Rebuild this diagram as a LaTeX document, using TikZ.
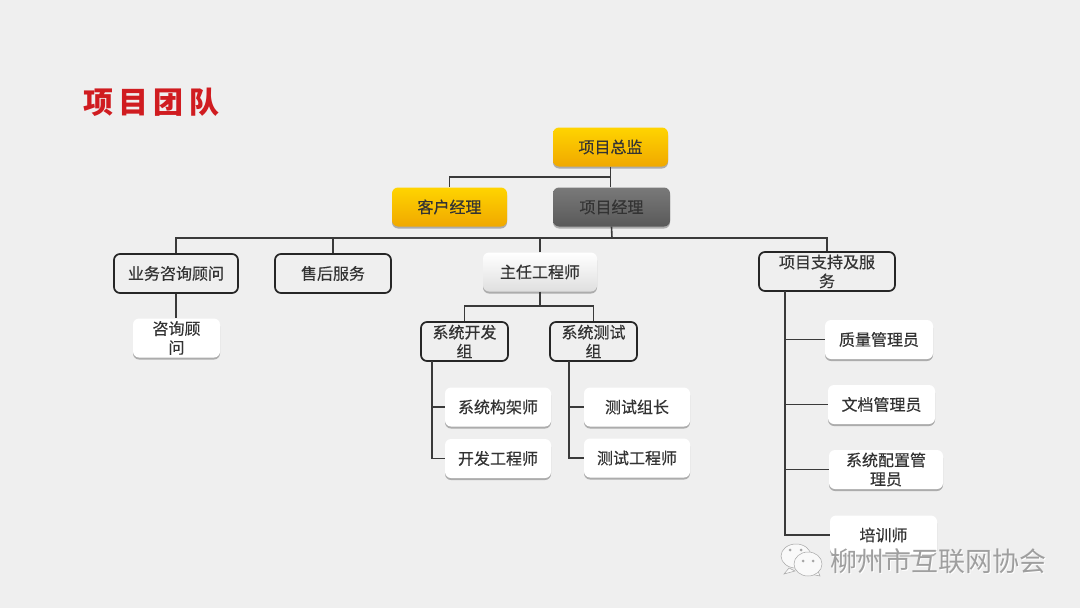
\documentclass[tikz,border=0pt]{standalone}
\usepackage{fontspec}
\usepackage{xcolor}
\usetikzlibrary{shadows}
\setmainfont{Noto Sans CJK SC}
\newfontfamily\titlefont[LetterSpace=18]{Noto Sans CJK SC}
\newfontfamily\boxfont[FakeBold=0.4]{Noto Sans CJK SC}
\definecolor{pagebg}{HTML}{EFEFEF}
\definecolor{linecol}{HTML}{3A3A3A}
\definecolor{txtcol}{HTML}{333333}
\definecolor{goldtop}{HTML}{FFD400}
\definecolor{goldbot}{HTML}{F0A800}
\definecolor{titlered}{HTML}{D01C20}
\tikzset{
    box/.style={rounded corners=6pt, minimum height=39pt, inner sep=0pt, align=center,
        text=txtcol, font=\boxfont\fontsize{16}{19}\selectfont},
    softshadow/.style={drop shadow={shadow xshift=0pt, shadow yshift=-2pt, fill=gray, opacity=0.6}},
    goldbox/.style={box, softshadow, minimum width=115pt, top color=goldtop, bottom color=goldbot},
    greybox/.style={box, softshadow, minimum width=117pt, top color=gray!95!black, bottom color=gray!70!black},
    whitebox/.style={box, softshadow, fill=white},
    linebox/.style={box, draw=black!85, line width=1.7pt, fill=pagebg},
    wire/.style={draw=linecol, line width=1.6pt},
    wechat/.style={fill=white!95!gray, draw=gray!70, line width=0.5pt},
}
\begin{document}
\begin{tikzpicture}[x=1pt, y=-1pt]
    \useasboundingbox (0,0) rectangle (1080,608);
    \fill[pagebg] (0,0) rectangle (1080,608);
    \node[anchor=west, inner sep=0pt, text=titlered, font=\titlefont\fontsize{30}{32}\selectfont\bfseries] (title) at (83,102) {项目团队};

    % top of the tree
    \node[goldbox] (zongjian) at (610.5,147) {项目总监};
    \node[goldbox] (kehu) at (449.5,207) {客户经理};
    \node[greybox] (jingli) at (611.5,207) {项目经理};

    % second row
    \node[linebox, minimum width=124pt] (zixun) at (176,273.5) {业务咨询顾问};
    \node[linebox, minimum width=116pt] (shouhou) at (333,273.5) {售后服务};
    \node[box, softshadow, minimum width=114pt, top color=white, bottom color=gray!25] (zhuren) at (540,272) {主任工程师};
    \node[linebox, minimum width=136pt] (zhichi) at (827,271.5) {项目支持及服\\务};

    % groups
    \node[whitebox, minimum width=87pt] (guwen) at (176.5,338) {咨询顾\\问};
    \node[linebox, minimum width=87pt] (kaifa) at (464.5,341.5) {系统开发\\组};
    \node[linebox, minimum width=87pt] (ceshi) at (593.5,341.5) {系统测试\\组};

    % members
    \node[whitebox, minimum width=106pt] (goujia) at (498,407) {系统构架师};
    \node[whitebox, minimum width=106pt] (kfgc) at (498,458.5) {开发工程师};
    \node[whitebox, minimum width=106pt] (zuzhang) at (637,407) {测试组长};
    \node[whitebox, minimum width=106pt] (csgc) at (637,458) {测试工程师};
    \node[whitebox, minimum width=108pt] (zhiliang) at (879,339.5) {质量管理员};
    \node[whitebox, minimum width=107pt] (wendang) at (881.5,404.5) {文档管理员};
    \node[whitebox, minimum width=114pt] (peizhi) at (886,469.5) {系统配置管\\理员};
    \node[whitebox, minimum width=107pt] (peixun) at (883.5,535) {培训师};

    \coordinate (topbus) at (611,177);
    \coordinate (midbus) at (612,238);
    \coordinate (devbus) at (540,306);
    \coordinate (kfdrop) at (432,361);
    \coordinate (csdrop) at (569,361);
    \coordinate (zcdrop) at (785,291);

    \draw[wire] (zongjian.south) -- (zongjian.south |- jingli.north);
    \draw[wire] (topbus) -| (kehu.north);
    \draw[wire] (jingli.south) -- (midbus);
    \draw[wire] (zixun.north) |- (midbus) -| (zhichi.north);
    \draw[wire] (shouhou.north) -- (shouhou.north |- midbus);
    \draw[wire] (zhuren.north) -- (zhuren.north |- midbus);
    \draw[wire] (zixun.south) -- (zixun.south |- guwen.north);
    \draw[wire] (zhuren.south) -- (devbus);
    \draw[wire] (kaifa.north) |- (devbus) -| (ceshi.north);
    \foreach \m in {goujia,kfgc}
        \draw[wire] (kfdrop) |- (\m.west);
    \foreach \m in {zuzhang,csgc}
        \draw[wire] (csdrop) |- (\m.west);
    \foreach \m in {zhiliang,wendang,peizhi,peixun}
        \draw[wire] (zcdrop) |- (\m.west);

    % watermark
    \draw[wechat] (789,568) -- (784,574) -- (795,571) -- cycle;
    \draw[wechat] (796,556) ellipse (15pt and 12pt);
    \draw[wechat] (810,574) -- (820,576) -- (816,566) -- cycle;
    \draw[wechat] (808,564) ellipse (14pt and 12pt);
    \foreach \px/\py in {790/550,801/550,803/561,813/561}
        \fill[gray!70] (\px,\py) circle (1.5pt);
    \node[anchor=west, inner sep=0pt, text=white, font=\fontsize{27}{29}\selectfont] (marklight) at (830.8,561.8) {柳州市互联网协会};
    \node[anchor=west, inner sep=0pt, text=gray!75, font=\fontsize{27}{29}\selectfont] (mark) at (830,561) {柳州市互联网协会};
\end{tikzpicture}
\end{document}
